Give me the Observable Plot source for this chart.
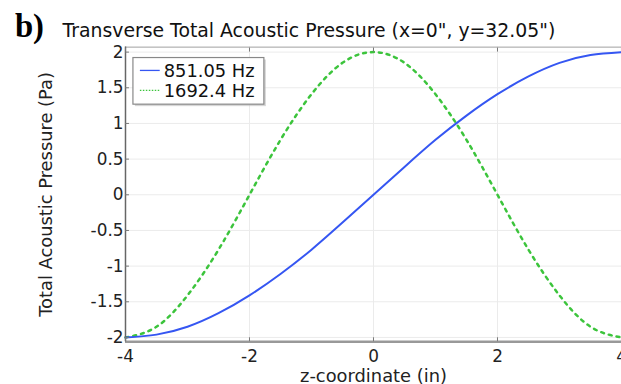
<!DOCTYPE html>
<html><head><meta charset="utf-8">
<script src="https://cdn.jsdelivr.net/npm/d3@7"></script>
<script src="https://cdn.jsdelivr.net/npm/@observablehq/plot@0.6"></script>
<style>
html,body{margin:0;padding:0;background:#fff;overflow:hidden;}
#wrap{position:relative;width:621px;height:384px;overflow:hidden;}
#chart{position:absolute;left:0;top:0;}
</style></head>
<body><div id="wrap"><div id="chart"></div></div>
<script>
const z = [-4,-3.5,-3,-2.5,-2,-1.5,-1,-0.5,0,0.5,1,1.5,2,2.5,3,3.5,4];
const p851 = [-2,-1.96,-1.85,-1.66,-1.41,-1.11,-0.77,-0.39,0,0.39,0.77,1.11,1.41,1.66,1.85,1.96,2];
const p1692 = [-2,-1.85,-1.41,-0.77,0,0.77,1.41,1.85,2,1.85,1.41,0.77,0,-0.77,-1.41,-1.85,-2];
const seriesNames = ["851.05 Hz","1692.4 Hz"];
const xTicks = [-4,-2,0,2,4];
const yTicks = [-2,-1.5,-1,-0.5,0,0.5,1,1.5,2];
const yTickLabels = ["-2","-1.5","-1","-0.5","0","0.5","1","1.5","2"];
const panelLabel = "b)";
const titleText = "Transverse Total Acoustic Pressure (x=0\", y=32.05\")";
const xLabel = "z-coordinate (in)";
const yLabel = "Total Acoustic Pressure (Pa)";

const blue = "#3556f2", green = "#3cc43c";
const d1 = z.map((v,i)=>({z:v,p:p851[i]}));
const d2 = z.map((v,i)=>({z:v,p:p1692[i]}));
const FONT = "DejaVu Sans, sans-serif";

const chart = Plot.plot({
  width: 626, height: 384,
  marginLeft: 126, marginRight: 0, marginTop: 47, marginBottom: 40,
  style: {fontFamily: FONT, fontSize: "17px", color: "#222", background: "transparent", overflow: "visible"},
  x: {domain: [-4, 4]},
  y: {domain: [-2.06, 2.07]},
  marks: [
    Plot.ruleX(xTicks, {stroke: "#ebebeb", strokeWidth: 1}),
    Plot.ruleY(yTicks, {stroke: "#ebebeb", strokeWidth: 1}),
    Plot.frame({stroke: "#a0a0a0", strokeWidth: 1}),
    Plot.line(d2, {x: "z", y: "p", stroke: green, strokeWidth: 2.5, strokeDasharray: "3,5", curve: "natural"}),
    Plot.line(d1, {x: "z", y: "p", stroke: blue, strokeWidth: 2, curve: "natural"}),
    Plot.ruleY([-2.06], {stroke: "#999", strokeWidth: 2.5}),
    Plot.ruleX([-4], {stroke: "#666", strokeWidth: 1.5}),
    Plot.axisX(xTicks, {tickSize: -4, tickPadding: 12, stroke: "#777", fontSize: 17, fill: "#222", label: null, tickFormat: d => String(d)}),
    Plot.axisX(xTicks, {anchor: "top", tickSize: -4, stroke: "#777", label: null, tickFormat: () => ""}),
    Plot.axisY(yTicks, {tickSize: -4, tickPadding: 6, stroke: "#777", fontSize: 17, fill: "#222", label: null, tickFormat: (d,i) => yTickLabels[i]}),
    Plot.text([xLabel], {frameAnchor: "bottom", dy: 41, lineAnchor: "bottom", textAnchor: "middle", fontSize: 18, fill: "#222", x: 0}),
    Plot.text([yLabel], {frameAnchor: "left", dx: -80, rotate: -90, textAnchor: "middle", fontSize: 18, fill: "#222"})
  ]
});
document.getElementById("chart").appendChild(chart);

const svg = d3.select(chart);
svg.append("text").attr("x", 15).attr("y", 37).attr("text-anchor", "start")
  .attr("font-family", "Liberation Serif, serif").attr("font-weight", "bold").attr("font-size", 33).attr("fill", "#000").text(panelLabel);
svg.append("text").attr("x", 63).attr("y", 37).attr("text-anchor", "start")
  .attr("font-family", FONT).attr("font-size", 19).attr("fill", "#111").text(titleText);

const lx = 134, ly = 58, lw = 132, lh = 47;
const g = svg.append("g");
g.append("rect").attr("x", lx+2).attr("y", ly+2).attr("width", lw).attr("height", lh).attr("fill", "#bbb").attr("opacity", 0.6);
g.append("rect").attr("x", lx).attr("y", ly).attr("width", lw).attr("height", lh).attr("fill", "#fff").attr("stroke", "#888").attr("stroke-width", 1.2);
const cols = [blue, green], dash = [null, "1.5,1.5"];
seriesNames.forEach((n, i) => {
  const yy = ly + 13 + i*20;
  g.append("line").attr("x1", lx+7).attr("x2", lx+27).attr("y1", yy).attr("y2", yy).attr("stroke", cols[i]).attr("stroke-width", 1.3).attr("stroke-dasharray", dash[i]);
  g.append("text").attr("x", lx+31).attr("y", yy).attr("dy", "0.35em").attr("text-anchor", "start").attr("font-size", 18).attr("fill", "#111").attr("font-family", FONT).text(n);
});
</script></body></html>
